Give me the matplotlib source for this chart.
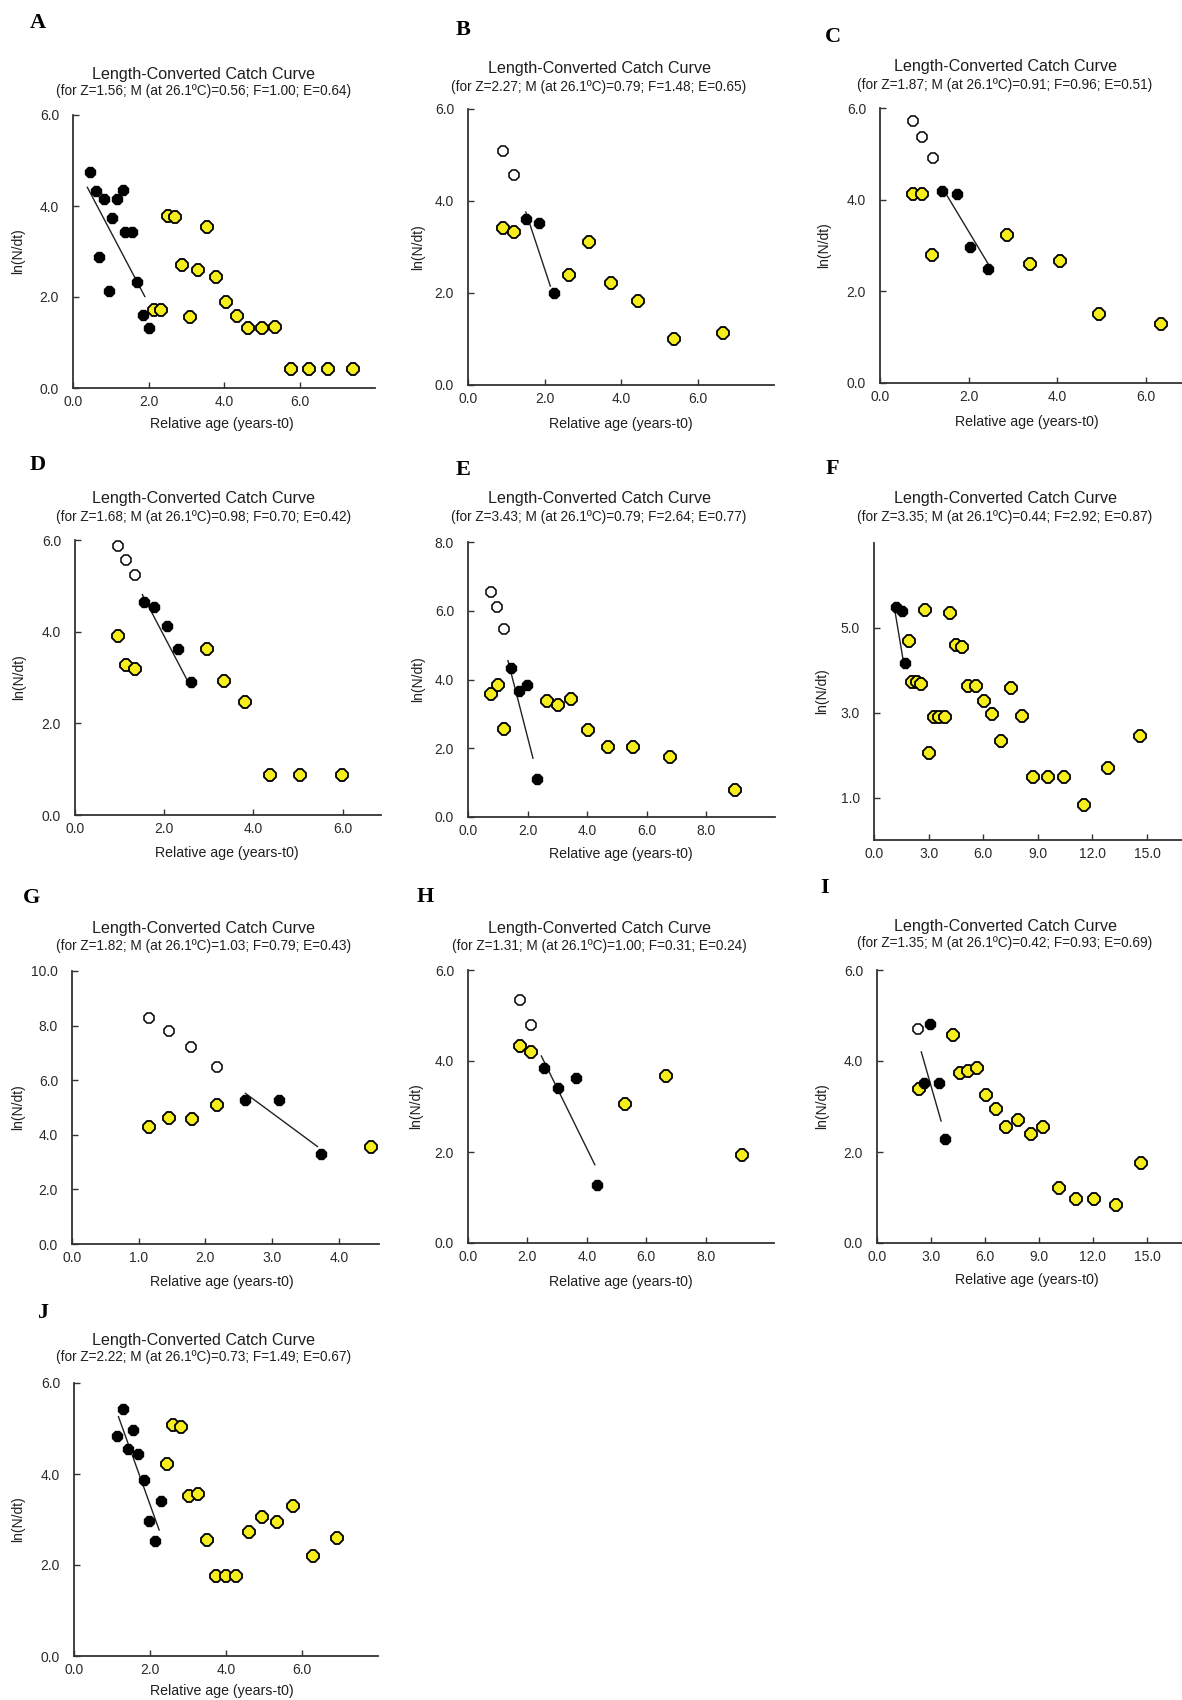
import matplotlib
matplotlib.use('Agg')
import matplotlib.pyplot as plt
from matplotlib.ticker import FormatStrFormatter

plt.rcParams['font.family'] = ['Liberation Sans', 'DejaVu Sans']

# ---------------- data ----------------
# A
a_black_x = [0.46, 0.61, 0.81, 0.70, 0.94, 1.03, 1.16, 1.31, 1.38, 1.56, 1.70, 1.84, 2.02]
a_black_y = [4.75, 4.34, 4.15, 2.88, 2.13, 3.74, 4.15, 4.35, 3.42, 3.42, 2.34, 1.61, 1.31]
a_yellow_x = [2.15, 2.32, 2.51, 2.69, 2.89, 3.09, 3.30, 3.55, 3.79, 4.04, 4.35, 4.64, 4.99, 5.35,
              5.78, 6.24, 6.75, 7.40]
a_yellow_y = [1.72, 1.72, 3.78, 3.76, 2.71, 1.56, 2.60, 3.53, 2.45, 1.88, 1.59, 1.31, 1.31, 1.33,
              0.42, 0.42, 0.42, 0.42]
a_open_x, a_open_y = [], []
a_fit_x, a_fit_y = [0.38, 1.90], [4.41, 2.01]

# B
b_black_x = [1.51, 1.86, 2.24]
b_black_y = [3.61, 3.52, 2.00]
b_yellow_x = [0.91, 1.21, 2.64, 3.15, 3.74, 4.45, 5.37, 6.67]
b_yellow_y = [3.41, 3.32, 2.39, 3.11, 2.21, 1.82, 1.00, 1.12]
b_open_x, b_open_y = [0.91, 1.19], [5.08, 4.56]
b_fit_x, b_fit_y = [1.51, 2.15], [3.76, 2.15]

# C
c_black_x = [1.41, 1.73, 2.04, 2.43]
c_black_y = [4.18, 4.12, 2.97, 2.49]
c_yellow_x = [0.74, 0.94, 1.18, 2.86, 3.39, 4.06, 4.95, 6.35]
c_yellow_y = [4.13, 4.13, 2.79, 3.23, 2.60, 2.66, 1.51, 1.28]
c_open_x, c_open_y = [0.74, 0.95, 1.19], [5.71, 5.36, 4.90]
c_fit_x, c_fit_y = [1.50, 2.46], [4.11, 2.57]

# D
d_black_x = [1.55, 1.78, 2.06, 2.31, 2.60]
d_black_y = [4.64, 4.53, 4.12, 3.63, 2.90]
d_yellow_x = [0.96, 1.14, 1.35, 2.95, 3.35, 3.81, 4.37, 5.05, 5.98]
d_yellow_y = [3.91, 3.28, 3.19, 3.62, 2.93, 2.46, 0.88, 0.88, 0.88]
d_open_x, d_open_y = [0.96, 1.15, 1.35], [5.86, 5.57, 5.23]
d_fit_x, d_fit_y = [1.51, 2.56], [4.81, 2.86]

# E
e_black_x = [1.43, 1.70, 1.97, 2.32]
e_black_y = [4.34, 3.67, 3.84, 1.10]
e_yellow_x = [0.78, 1.01, 1.20, 2.64, 3.02, 3.47, 4.03, 4.70, 5.54, 6.77, 8.95]
e_yellow_y = [3.57, 3.84, 2.56, 3.38, 3.26, 3.42, 2.52, 2.05, 2.05, 1.74, 0.78]
e_open_x, e_open_y = [0.78, 0.97, 1.20], [6.56, 6.12, 5.48]
e_fit_x, e_fit_y = [1.34, 2.18], [4.55, 1.71]

# F
f_black_x = [1.23, 1.54, 1.72]
f_black_y = [5.49, 5.40, 4.18]
f_yellow_x = [2.82, 4.15, 1.92, 4.52, 4.83, 2.09, 2.34, 2.56, 5.16, 5.62, 7.50, 6.04, 6.48, 8.12,
              3.29, 3.57, 3.88, 3.02, 6.99, 8.74, 9.58, 10.43, 11.52, 12.84, 14.63]
f_yellow_y = [5.43, 5.36, 4.69, 4.60, 4.56, 3.72, 3.72, 3.67, 3.62, 3.62, 3.58, 3.28, 2.96, 2.93,
              2.90, 2.90, 2.90, 2.06, 2.33, 1.49, 1.49, 1.49, 0.83, 1.69, 2.45]
f_open_x, f_open_y = [], []
f_fit_x, f_fit_y = [1.13, 1.59], [5.45, 4.27]

# G
g_black_x = [2.60, 3.10, 3.73]
g_black_y = [5.26, 5.26, 3.29]
g_yellow_x = [1.16, 1.46, 1.80, 2.18, 4.48]
g_yellow_y = [4.30, 4.63, 4.59, 5.10, 3.54]
g_open_x, g_open_y = [1.16, 1.46, 1.79, 2.18], [8.29, 7.80, 7.23, 6.50]
g_fit_x, g_fit_y = [2.60, 3.68], [5.52, 3.57]

# H
h_black_x = [2.55, 3.03, 3.62, 4.33]
h_black_y = [3.84, 3.40, 3.63, 1.28]
h_yellow_x = [1.76, 2.11, 5.28, 6.65, 9.21]
h_yellow_y = [4.33, 4.20, 3.05, 3.68, 1.94]
h_open_x, h_open_y = [1.76, 2.11], [5.34, 4.79]
h_fit_x, h_fit_y = [2.47, 4.27], [4.11, 1.72]

# I
i_black_x = [2.96, 2.59, 3.43, 3.80]
i_black_y = [4.81, 3.52, 3.52, 2.28]
i_yellow_x = [2.31, 4.20, 4.59, 5.04, 5.56, 6.06, 6.61, 7.17, 7.83, 8.54, 9.24, 10.13, 11.07,
              12.07, 13.28, 14.65]
i_yellow_y = [3.38, 4.58, 3.74, 3.78, 3.85, 3.25, 2.94, 2.56, 2.71, 2.39, 2.54, 1.21, 0.97,
              0.97, 0.83, 1.76]
i_open_x, i_open_y = [2.28], [4.70]
i_fit_x, i_fit_y = [2.46, 3.56], [4.20, 2.68]

# J
j_black_x = [1.14, 1.30, 1.54, 1.41, 1.68, 1.84, 2.28, 1.97, 2.13]
j_black_y = [4.84, 5.43, 4.96, 4.54, 4.45, 3.86, 3.40, 2.97, 2.53]
j_yellow_x = [2.61, 2.82, 2.44, 3.03, 3.27, 3.49, 3.74, 4.00, 4.26, 4.61, 4.96, 5.35, 5.77,
              6.30, 6.91]
j_yellow_y = [5.07, 5.03, 4.23, 3.51, 3.57, 2.55, 1.75, 1.75, 1.75, 2.72, 3.05, 2.94, 3.30,
              2.19, 2.59]
j_open_x, j_open_y = [], []
j_fit_x, j_fit_y = [1.17, 2.24], [5.26, 2.77]

# Z, M, F, E per panel
stats = {
    'A': (1.56, 0.56, 1.00, 0.64), 'B': (2.27, 0.79, 1.48, 0.65),
    'C': (1.87, 0.91, 0.96, 0.51), 'D': (1.68, 0.98, 0.70, 0.42),
    'E': (3.43, 0.79, 2.64, 0.77), 'F': (3.35, 0.44, 2.92, 0.87),
    'G': (1.82, 1.03, 0.79, 0.43), 'H': (1.31, 1.00, 0.31, 0.24),
    'I': (1.35, 0.42, 0.93, 0.69), 'J': (2.22, 0.73, 1.49, 0.67),
}

series = {
    'A': (a_black_x, a_black_y, a_yellow_x, a_yellow_y, a_open_x, a_open_y, a_fit_x, a_fit_y),
    'B': (b_black_x, b_black_y, b_yellow_x, b_yellow_y, b_open_x, b_open_y, b_fit_x, b_fit_y),
    'C': (c_black_x, c_black_y, c_yellow_x, c_yellow_y, c_open_x, c_open_y, c_fit_x, c_fit_y),
    'D': (d_black_x, d_black_y, d_yellow_x, d_yellow_y, d_open_x, d_open_y, d_fit_x, d_fit_y),
    'E': (e_black_x, e_black_y, e_yellow_x, e_yellow_y, e_open_x, e_open_y, e_fit_x, e_fit_y),
    'F': (f_black_x, f_black_y, f_yellow_x, f_yellow_y, f_open_x, f_open_y, f_fit_x, f_fit_y),
    'G': (g_black_x, g_black_y, g_yellow_x, g_yellow_y, g_open_x, g_open_y, g_fit_x, g_fit_y),
    'H': (h_black_x, h_black_y, h_yellow_x, h_yellow_y, h_open_x, h_open_y, h_fit_x, h_fit_y),
    'I': (i_black_x, i_black_y, i_yellow_x, i_yellow_y, i_open_x, i_open_y, i_fit_x, i_fit_y),
    'J': (j_black_x, j_black_y, j_yellow_x, j_yellow_y, j_open_x, j_open_y, j_fit_x, j_fit_y),
}

# ---------------- layout (pixels in the 1182x1700 figure) ----------------
layout = {
    'A': dict(left=73, top=115, bottom=388, xs=37.8, xlim=8.0, ylim=(0, 6), xt=[0, 2, 4, 6], yt=[0, 2, 4, 6]),
    'B': dict(left=468, top=109, bottom=385, xs=38.3, xlim=8.0, ylim=(0, 6), xt=[0, 2, 4, 6], yt=[0, 2, 4, 6]),
    'C': dict(left=880, top=108, bottom=383, xs=44.3, xlim=8.0, ylim=(0, 6), xt=[0, 2, 4, 6], yt=[0, 2, 4, 6]),
    'D': dict(left=75, top=540, bottom=815, xs=44.6, xlim=6.85, ylim=(0, 6), xt=[0, 2, 4, 6], yt=[0, 2, 4, 6]),
    'E': dict(left=468, top=542, bottom=817, xs=29.8, xlim=10.3, ylim=(0, 8), xt=[0, 2, 4, 6, 8], yt=[0, 2, 4, 6, 8]),
    'F': dict(left=874, top=543, bottom=840, xs=18.2, xlim=18.0, ylim=(0, 7), xt=[0, 3, 6, 9, 12, 15], yt=[1, 3, 5]),
    'G': dict(left=72, top=971, bottom=1244, xs=66.7, xlim=4.6, ylim=(0, 10), xt=[0, 1, 2, 3, 4], yt=[0, 2, 4, 6, 8, 10]),
    'H': dict(left=468, top=970, bottom=1243, xs=29.7, xlim=10.3, ylim=(0, 6), xt=[0, 2, 4, 6, 8], yt=[0, 2, 4, 6]),
    'I': dict(left=877, top=970, bottom=1243, xs=18.0, xlim=18.0, ylim=(0, 6), xt=[0, 3, 6, 9, 12, 15], yt=[0, 2, 4, 6]),
    'J': dict(left=74, top=1383, bottom=1656, xs=38.0, xlim=8.0, ylim=(0, 6), xt=[0, 2, 4, 6], yt=[0, 2, 4, 6]),
}
# letter (x, y), title x, title y, subtitle y, xlabel (x, y) or None, ylabel x
texts = {
    'A': ((38, 23), 204, 74, 91, (222, 424), 18),
    'B': ((463, 30), 599, 69, 87, (621, 424), 418),
    'C': ((833, 37), 1005, 67, 85, (1027, 422), 824),
    'D': ((38, 465), 204, 499, 517, (227, 853), 19),
    'E': ((463, 470), 599, 499, 517, (621, 854), 418),
    'F': ((832, 469), 1005, 499, 517, None, 822),
    'G': ((32, 898), 204, 928, 946, (222, 1282), 18),
    'H': ((425, 897), 599, 928, 946, (621, 1282), 416),
    'I': ((825, 888), 1005, 926, 943, (1027, 1280), 822),
    'J': ((43, 1313), 204, 1340, 1357, (222, 1691), 18),
}

W, H = 1182, 1700
fig = plt.figure(figsize=(W / 100, H / 100), dpi=100)
fig.patch.set_facecolor('white')

txt_col = '#1e1e1e'
yellow = '#f6ee1c'

for key in 'ABCDEFGHIJ':
    lay = layout[key]
    left, top, bottom = lay['left'], lay['top'], lay['bottom']
    width = lay['xs'] * lay['xlim']
    ax = fig.add_axes([left / W, 1 - bottom / H, width / W, (bottom - top) / H])

    bx, by, yx, yy, ox, oy, fx, fy = series[key]
    ax.plot(fx, fy, color='#222222', lw=1.0, zorder=2)
    ax.plot(yx, yy, ls='none', marker='8', ms=8.6, mfc=yellow, mec='black', mew=1.3, zorder=3)
    ax.plot(ox, oy, ls='none', marker='8', ms=7.6, mfc='white', mec='black', mew=1.1, zorder=3)
    ax.plot(bx, by, ls='none', marker='8', ms=8.4, mfc='black', mec='black', mew=1.0, zorder=4)

    ax.set_xlim(0, lay['xlim'])
    ax.set_ylim(*lay['ylim'])
    ax.set_xticks(lay['xt'])
    ax.set_yticks(lay['yt'])
    ax.xaxis.set_major_formatter(FormatStrFormatter('%.1f'))
    ax.yaxis.set_major_formatter(FormatStrFormatter('%.1f'))
    ax.tick_params(axis='both', direction='in', length=4, width=1.0, color='#333333',
                   labelsize=10, labelcolor='#2a2a2a')
    ax.tick_params(axis='x', pad=5)
    ax.tick_params(axis='y', pad=10)
    for s in ['top', 'right']:
        ax.spines[s].set_visible(False)
    for s in ['left', 'bottom']:
        ax.spines[s].set_linewidth(1.3)
        ax.spines[s].set_color('#333333')
    ax.set_facecolor('none')

    (lx, ly), tx, ty, sy, xl, ylx = texts[key]
    z, m, f, e = stats[key]
    fig.text(lx / W, 1 - ly / H, key, fontsize=16, fontweight='bold',
             family=['Liberation Serif', 'DejaVu Serif'], ha='center', va='center')
    fig.text(tx / W, 1 - ty / H, 'Length-Converted Catch Curve', fontsize=11.6,
             color=txt_col, ha='center', va='center')
    fig.text(tx / W, 1 - sy / H,
             f'(for Z={z:.2f}; M (at 26.1\u00baC)={m:.2f}; F={f:.2f}; E={e:.2f})',
             fontsize=9.8, color=txt_col, ha='center', va='center')
    if xl is not None:
        fig.text(xl[0] / W, 1 - xl[1] / H, 'Relative age (years-t0)', fontsize=10.2,
                 color=txt_col, ha='center', va='center')
    fig.text(ylx / W, 1 - (top + bottom) / 2 / H, 'ln(N/dt)', fontsize=10, rotation=90,
             color=txt_col, ha='center', va='center')

fig.savefig('out.png', dpi=100, facecolor='white')
